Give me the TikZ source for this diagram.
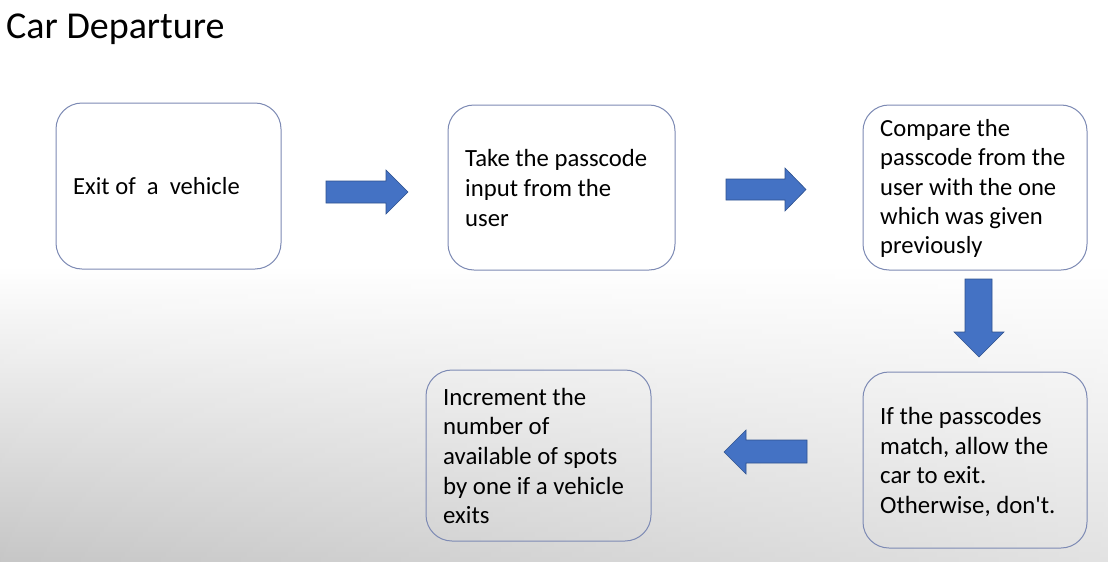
\documentclass[tikz,border=0pt]{standalone}
\usepackage{fontspec}
\setmainfont{Carlito}
\definecolor{boxline}{RGB}{125,138,180}
\definecolor{arrowblue}{RGB}{68,114,196}
\definecolor{arrowedge}{RGB}{47,82,143}
\definecolor{bgleft}{RGB}{198,198,198}
\definecolor{bgright}{RGB}{226,226,226}
\begin{document}
\begin{tikzpicture}[x=1pt,y=-1pt,
  box/.style={draw=boxline,line width=1pt,rounded corners=26pt,inner sep=0pt},
  boxtext/.style={anchor=west,align=left,inner sep=0pt,text=black},
  blockarrow/.style={fill=arrowblue,draw=arrowedge,line width=0.6pt}]
\useasboundingbox (0,0) rectangle (1108,562);
\fill[white] (0,0) rectangle (1108,562);
\foreach \i in {0,...,59}{
  \pgfmathsetmacro\p{(\i+0.5)/60*100}
  \shade[left color=bgleft!\p!white,right color=bgright!\p!white]
    (0,{265+\i*4.95}) rectangle (1108,{265+(\i+1)*4.95+0.6});
}

\node[anchor=base west,inner sep=0pt,font=\fontsize{38}{44}\selectfont] (title) at (6,38) {Car Departure};

\node[box,minimum width=225pt,minimum height=166pt] (b1) at (168.5,186) {};
\node[box,minimum width=227pt,minimum height=165pt] (b2) at (561.5,187.5) {};
\node[box,minimum width=224pt,minimum height=165pt] (b3) at (975,187.5) {};
\node[box,minimum width=224pt,minimum height=176pt] (b4) at (975,460) {};
\node[box,minimum width=225pt,minimum height=171pt] (b5) at (538.5,455.5) {};

\node[boxtext,font=\fontsize{24.6}{30}\selectfont] (t1) at (73,186) {Exit of\ \ a\ \ vehicle};
\node[boxtext,font=\fontsize{24.7}{30}\selectfont] (t2) at (465,188.5) {Take the passcode\\input from the\\user};
\node[boxtext,font=\fontsize{24.6}{29.4}\selectfont] (t3) at (880,188.5) {Compare the\\passcode from the\\user with the one\\which was given\\previously};
\node[boxtext,font=\fontsize{24.8}{29.7}\selectfont] (t4) at (880,462) {If the passcodes\\match, allow the\\car to exit.\\Otherwise, don\textquotesingle t.};
\node[boxtext,font=\fontsize{24.8}{29.7}\selectfont] (t5) at (443,456) {Increment the\\number of\\available of spots\\by one if a vehicle\\exits};

\filldraw[blockarrow] (326,181) -- (386,181) -- (386,170) -- (408,192) -- (386,214) -- (386,203) -- (326,203) -- cycle;
\filldraw[blockarrow] (726,179) -- (785,179) -- (785,168) -- (806,189.5) -- (785,211) -- (785,200) -- (726,200) -- cycle;
\filldraw[blockarrow] (965,279) -- (992,279) -- (992,332) -- (1004,332) -- (979,357) -- (954,332) -- (965,332) -- cycle;
\filldraw[blockarrow] (807,440) -- (746,440) -- (746,430) -- (724,452) -- (746,474) -- (746,463) -- (807,463) -- cycle;
\end{tikzpicture}
\end{document}
